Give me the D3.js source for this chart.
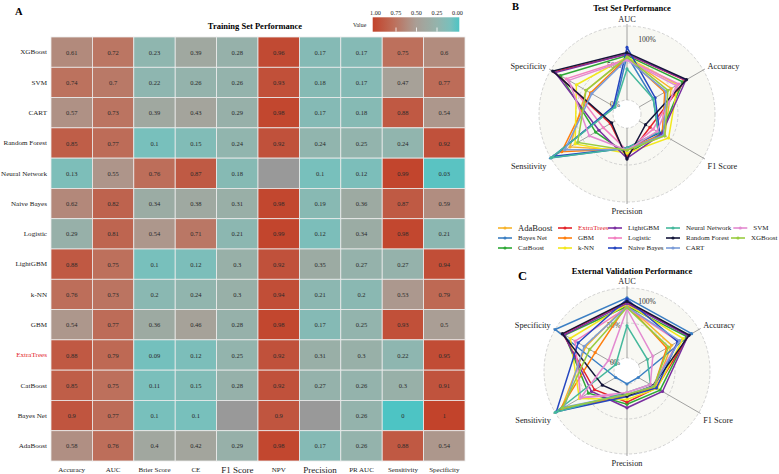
<!DOCTYPE html>
<html><head><meta charset="utf-8">
<script src="https://cdn.jsdelivr.net/npm/d3@7"></script>
<style>body{margin:0;background:#fff}svg{display:block}text{font-family:"Liberation Serif","Times New Roman",serif}</style>
</head><body><svg id="c" width="779" height="474"></svg>
<script>
// ---------- Panel A: training heatmap ----------
const heatModels = ["XGBoost","SVM","CART","Random Forest","Neural Network","Naive Bayes","Logistic","LightGBM","k-NN","GBM","ExtraTrees","CatBoost","Bayes Net","AdaBoost"];
const heatMetrics = ["Accuracy","AUC","Brier Score","CE","F1 Score","NPV","Precision","PR AUC","Sensitivity","Specificity"];
const trXGBoost      = [0.61,0.72,0.23,0.39,0.28,0.96,0.17,0.17,0.75,0.6];
const trSVM          = [0.74,0.7,0.22,0.26,0.26,0.93,0.18,0.17,0.47,0.77];
const trCART         = [0.57,0.73,0.39,0.43,0.29,0.98,0.17,0.18,0.88,0.54];
const trRandomForest = [0.85,0.77,0.1,0.15,0.24,0.92,0.24,0.25,0.24,0.92];
const trNeuralNet    = [0.13,0.55,0.76,0.87,0.18,null,0.1,0.12,0.99,0.03];
const trNaiveBayes   = [0.62,0.82,0.34,0.38,0.31,0.98,0.19,0.36,0.87,0.59];
const trLogistic     = [0.29,0.81,0.54,0.71,0.21,0.99,0.12,0.34,0.98,0.21];
const trLightGBM     = [0.88,0.75,0.1,0.12,0.3,0.92,0.35,0.27,0.27,0.94];
const trKNN          = [0.76,0.73,0.2,0.24,0.3,0.94,0.21,0.2,0.53,0.79];
const trGBM          = [0.54,0.77,0.36,0.46,0.28,0.98,0.17,0.25,0.93,0.5];
const trExtraTrees   = [0.88,0.79,0.09,0.12,0.25,0.92,0.31,0.3,0.22,0.95];
const trCatBoost     = [0.85,0.75,0.11,0.15,0.28,0.92,0.27,0.26,0.3,0.91];
const trBayesNet     = [0.9,0.77,0.1,0.1,null,0.9,null,0.26,0,1];
const trAdaBoost     = [0.58,0.76,0.4,0.42,0.29,0.98,0.17,0.26,0.88,0.54];
const trainRows = [trXGBoost,trSVM,trCART,trRandomForest,trNeuralNet,trNaiveBayes,trLogistic,trLightGBM,trKNN,trGBM,trExtraTrees,trCatBoost,trBayesNet,trAdaBoost];
const legendTicks = [1.00,0.75,0.50,0.25,0.00];

// ---------- Panels B & C: radar ----------
const radarAxes = ["AUC","Accuracy","F1 Score","Precision","Sensitivity","Specificity"];
const radarModels = ["AdaBoost","Bayes Net","CatBoost","ExtraTrees","GBM","k-NN","LightGBM","Logistic","Naive Bayes","Neural Network","Random Forest","CART","SVM","XGBoost"];
const radarColors = ["#f7b32b","#3b7fc4","#2ea836","#e3242b","#ff7f0e","#f2e81c","#7b2fa0","#f27fc0","#2546c0","#45b89c","#15163a","#7a9bd8","#e38ad0","#99cc40"];
const gridLabels = ["0%","50%","100%"];
// Test set (B)
const testAUC         = [0.58,0.60,0.60,0.62,0.57,0.58,0.62,0.55,0.71,0.42,0.64,0.55,0.54,0.58];
const testAccuracy    = [0.50,0.22,0.68,0.72,0.40,0.60,0.73,0.62,0.25,0.22,0.74,0.42,0.58,0.45];
const testF1          = [0.40,0.30,0.34,0.17,0.36,0.46,0.35,0.22,0.32,0.30,0.10,0.38,0.28,0.40];
const testPrecision   = [0.30,0.27,0.35,0.39,0.28,0.34,0.41,0.30,0.27,0.27,0.42,0.29,0.30,0.30];
const testSensitivity = [0.70,1.00,0.30,0.07,0.83,0.62,0.25,0.18,0.95,0.99,0.05,0.78,0.40,0.58];
const testSpecificity = [0.45,0.00,0.85,0.95,0.38,0.60,0.93,0.76,0.02,0.00,0.97,0.36,0.72,0.45];
// External validation (C)
const extAUC         = [0.76,0.86,0.74,0.80,0.76,0.77,0.78,0.72,0.84,0.46,0.81,0.73,0.70,0.72];
const extAccuracy    = [0.55,0.88,0.80,0.83,0.47,0.74,0.82,0.66,0.65,0.15,0.84,0.68,0.24,0.50];
const extF1          = [0.28,0.00,0.36,0.30,0.26,0.31,0.40,0.24,0.30,0.20,0.24,0.25,0.20,0.26];
const extPrecision   = [0.18,0.00,0.29,0.26,0.16,0.22,0.34,0.15,0.18,0.12,0.17,0.15,0.12,0.15];
const extSensitivity = [0.90,0.00,0.45,0.35,0.92,0.60,0.40,0.58,0.98,1.00,0.22,0.85,0.58,0.88];
const extSpecificity = [0.50,1.00,0.84,0.87,0.34,0.75,0.85,0.67,0.62,0.00,0.88,0.52,0.12,0.43];

const svg = d3.select("#c");
const color = d3.scaleLinear().domain([0,0.1,0.25,0.5,0.75,1])
  .range(["#4dc4c4","#78c0bc","#93b4ad","#aa9e95","#bd705c","#c2432b"]);

// Panel A
const hx = d3.scaleBand().domain(heatMetrics).range([51,465]);
const hy = d3.scaleBand().domain(heatModels).range([37,461]);
const cells = [];
heatModels.forEach((m,i)=>heatMetrics.forEach((k,j)=>cells.push({m,k,v:trainRows[i][j]})));
const gA = svg.append("g");
gA.selectAll("rect").data(cells).join("rect")
  .attr("x",d=>hx(d.k)).attr("y",d=>hy(d.m))
  .attr("width",hx.bandwidth()).attr("height",hy.bandwidth())
  .attr("fill",d=>d.v==null?"#999999":color(d.v))
  .attr("stroke","#ececec").attr("stroke-width",0.8);
gA.selectAll("text.v").data(cells.filter(d=>d.v!=null)).join("text")
  .attr("x",d=>hx(d.k)+hx.bandwidth()/2).attr("y",d=>hy(d.m)+hy.bandwidth()/2)
  .attr("text-anchor","middle").attr("dominant-baseline","central")
  .attr("font-size",6.5).attr("fill","#2a2a2a").text(d=>String(d.v));
const yAx = gA.append("g").attr("transform","translate(51,0)").call(d3.axisLeft(hy).tickSize(0).tickPadding(4));
yAx.select(".domain").remove();
yAx.selectAll("text").attr("font-size",7.1).attr("fill",d=>d==="ExtraTrees"?"#e3242b":"#222")
  .style("font-family","'Liberation Serif',serif");
const xAx = gA.append("g").attr("transform","translate(0,461)").call(d3.axisBottom(hx).tickSize(0).tickPadding(6));
xAx.select(".domain").remove();
xAx.selectAll("text").attr("font-size",d=>(d==="F1 Score"||d==="Precision")?9:7).attr("fill","#222")
  .style("font-family","'Liberation Serif',serif");
svg.append("text").attr("x",15).attr("y",15).attr("font-size",10.5).attr("font-weight","bold").text("A");
svg.append("text").attr("x",255).attr("y",29).attr("text-anchor","middle").attr("font-size",8.5).attr("font-weight","bold").text("Training Set Performance");

// colour legend
const defs = svg.append("defs");
const grad = defs.append("linearGradient").attr("id","gr");
d3.range(0,1.001,0.05).forEach(t=>grad.append("stop").attr("offset",t).attr("stop-color",color(1-t)));
svg.append("rect").attr("x",372.7).attr("y",17.3).attr("width",86.6).attr("height",14.4).attr("fill","url(#gr)");
const lx = d3.scaleLinear().domain([1,0]).range([375.5,457.5]);
svg.selectAll("line.lt").data(legendTicks.slice(1,4)).join("line")
  .attr("x1",d=>lx(d)).attr("x2",d=>lx(d)).attr("y1",27.5).attr("y2",31.7).attr("stroke","#fff").attr("stroke-width",0.8);
svg.selectAll("text.lt").data(legendTicks).join("text")
  .attr("x",d=>lx(d)).attr("y",15).attr("text-anchor","middle").attr("font-size",6.2).attr("fill","#222")
  .text(d=>d.toFixed(2));
svg.append("text").attr("x",353).attr("y",27).attr("font-size",5.8).attr("fill","#222").text("Value");

// Radar panels
function radar(cx,cy,R,r0,title,titleY,letter,letterY,letterSize,arrays){
  const g = svg.append("g");
  const r = d3.scaleLinear().domain([0,1]).range([r0,R]);
  const ang = i=>i*Math.PI/3;
  g.append("circle").attr("cx",cx).attr("cy",cy).attr("r",R).attr("fill","#f8f8f3");
  g.append("circle").attr("cx",cx).attr("cy",cy).attr("r",r0).attr("fill","#fff");
  [0,0.5,1].forEach(v=>g.append("circle").attr("cx",cx).attr("cy",cy).attr("r",r(v))
     .attr("fill","none").attr("stroke","#c8c8c8").attr("stroke-width",0.8).attr("stroke-dasharray","3,2"));
  radarAxes.forEach((a,i)=>{
    const s=Math.sin(ang(i)), c=-Math.cos(ang(i));
    g.append("line").attr("x1",cx+s*r0).attr("y1",cy+c*r0).attr("x2",cx+s*(R+2)).attr("y2",cy+c*(R+2))
      .attr("stroke","#8a8a8a").attr("stroke-width",0.8);
    const lr=R+5;
    let x=cx+s*lr, y=cy+c*lr, anchor="middle";
    if(i===0){y=cy-R-4;}
    else if(i===3){y=cy+R+12;}
    else { anchor = s>0?"start":"end"; y = c<0 ? y+1 : y+8; }
    g.append("text").attr("x",x).attr("y",y).attr("text-anchor",anchor).attr("font-size",8.3).attr("fill","#222").text(a);
  });
  const gl=[[cx-12,cy-r0+7],[cx-13,cy-r(0.5)+5],[cx+20,cy-R+16]];
  gridLabels.forEach((t,i)=>g.append("text").attr("x",gl[i][0]).attr("y",gl[i][1]).attr("text-anchor","middle")
     .attr("font-size",7.6).attr("fill","#333").text(t));
  const line = d3.lineRadial().angle((d,i)=>ang(i)).radius(d=>r(d)).curve(d3.curveLinearClosed);
  radarModels.forEach((m,k)=>{
    const vals = arrays.map(a=>a[k]);
    const gg = g.append("g").attr("transform",`translate(${cx},${cy})`);
    gg.append("path").attr("d",line(vals)).attr("fill","none").attr("stroke",radarColors[k]).attr("stroke-width",1.5);
    gg.selectAll("circle").data(vals).join("circle")
      .attr("cx",(d,i)=>Math.sin(ang(i))*r(d)).attr("cy",(d,i)=>-Math.cos(ang(i))*r(d))
      .attr("r",1.6).attr("fill",radarColors[k]);
  });
  svg.append("text").attr("x",632).attr("y",titleY).attr("text-anchor","middle").attr("font-size",8.5).attr("font-weight","bold").text(title);
  svg.append("text").attr("x",letter==="B"?512:518).attr("y",letterY).attr("font-size",letterSize).attr("font-weight","bold").text(letter);
}
radar(627,114,88,14,"Test Set Performance",10.5,"B",10,10.5,[testAUC,testAccuracy,testF1,testPrecision,testSensitivity,testSpecificity]);
radar(627,371,83,13,"External Validation Performance",274,"C",280,12.5,[extAUC,extAccuracy,extF1,extPrecision,extSensitivity,extSpecificity]);

// model legend (column-major, 3 rows)
const legRowY=[228,238,248];
const colTextX=[518,578,628,686];
const lg = svg.append("g");
let prevEnd=[0,0,0];
radarModels.forEach((m,k)=>{
  const col=Math.floor(k/3), row=k%3;
  let tx = col<4 ? colTextX[col] : prevEnd[row]+22;
  const y=legRowY[row];
  lg.append("line").attr("x1",tx-20).attr("x2",tx-6).attr("y1",y).attr("y2",y).attr("stroke",radarColors[k]).attr("stroke-width",1.6);
  lg.append("circle").attr("cx",tx-13).attr("cy",y).attr("r",1.6).attr("fill",radarColors[k]);
  const t=lg.append("text").attr("x",tx).attr("y",y).attr("dominant-baseline","central")
    .attr("font-size",m==="AdaBoost"?8.6:7).attr("fill",m==="ExtraTrees"?"#e3242b":"#222").text(m);
  prevEnd[row]=tx+t.node().getComputedTextLength();
});
</script></body></html>
